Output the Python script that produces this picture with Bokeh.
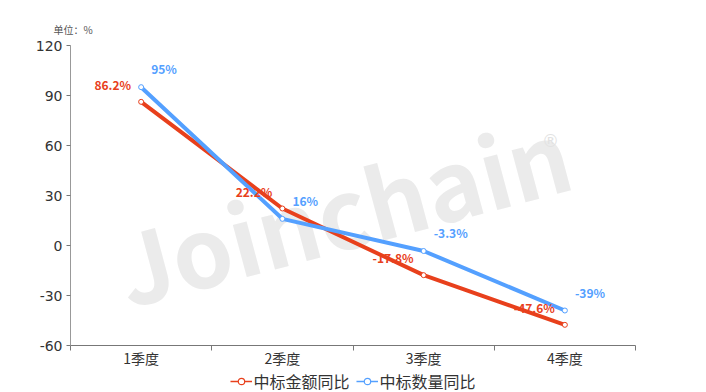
import math
from bokeh.plotting import figure
from bokeh.layouts import column
from bokeh.models import (ColumnDataSource, FixedTicker, Range1d, Label, Legend, LegendItem)
from bokeh.core.properties import value
from bokeh.embed import file_html
from bokeh.resources import INLINE

categories = ["1季度", "2季度", "3季度", "4季度"]
amount_yoy = [86.2, 22.2, -17.8, -47.6]
count_yoy = [95, 16, -3.3, -39]
y_ticks = [-60, -30, 0, 30, 60, 90, 120]
series_names = ["中标金额同比", "中标数量同比"]

RED = "#E8401C"
BLUE = "#54A0FF"
FONT = "Noto Sans CJK SC"

xpos = [i + 0.5 for i in range(len(categories))]

src_a = ColumnDataSource(dict(x=xpos, y=amount_yoy, lab=[f"{v:g}%" for v in amount_yoy]))
src_c = ColumnDataSource(dict(x=xpos, y=count_yoy, lab=[f"{v:g}%" for v in count_yoy]))

p = figure(width=700, height=370, output_backend="svg", toolbar_location=None,
           x_range=Range1d(0, len(categories)), y_range=Range1d(-60, 120),
           min_border_left=70, min_border_right=65, min_border_top=45, min_border_bottom=25)
p.outline_line_color = None
p.grid.grid_line_color = None
p.background_fill_color = "white"

p.title.text = "单位：%"
p.title.align = "left"
p.title.offset = -17
p.title.text_font = FONT
p.title.text_font_size = "10px"
p.title.text_font_style = "normal"
p.title.text_color = "#555555"
p.title.standoff = 18

# watermark
p.add_layout(Label(x=272, y=137, x_units="screen", y_units="screen", text="Joinchain",
                   text_font=FONT, text_font_style="bold", text_font_size="96px",
                   text_color="#ebebeb", text_align="center", text_baseline="middle",
                   angle=15, angle_units="deg", level="underlay"))
p.add_layout(Label(x=480, y=205, x_units="screen", y_units="screen", text="®",
                   text_font="DejaVu Sans", text_font_size="17px", text_color="#e2e2e2",
                   text_align="center", text_baseline="middle", level="underlay"))

p.line("x", "y", source=src_a, line_color=RED, line_width=4)
p.line("x", "y", source=src_c, line_color=BLUE, line_width=4)
p.scatter("x", "y", source=src_a, size=5, fill_color="white", line_color=RED, line_width=1)
p.scatter("x", "y", source=src_c, size=5, fill_color="white", line_color=BLUE, line_width=1)

p.text("x", "y", text="lab", source=src_a, x_offset=-10, y_offset=-9,
       text_align="right", text_baseline="bottom", text_font=value(FONT),
       text_font_style="bold", text_font_size="12px", text_color=RED)
p.text("x", "y", text="lab", source=src_c, x_offset=10, y_offset=-10,
       text_align="left", text_baseline="bottom", text_font=value(FONT),
       text_font_style="bold", text_font_size="12px", text_color=BLUE)

# axes
p.xaxis.ticker = FixedTicker(ticks=xpos, minor_ticks=list(range(len(categories) + 1)))
p.xaxis.major_label_overrides = {x: c for x, c in zip(xpos, categories)}
p.xaxis.major_tick_out = 0
p.xaxis.major_tick_in = 0
p.xaxis.minor_tick_out = 0
p.xaxis.minor_tick_in = -5
p.xaxis.axis_line_color = "#777777"
p.xaxis.minor_tick_line_color = "#777777"
p.xaxis.major_label_text_font = FONT
p.xaxis.major_label_text_font_size = "14px"
p.xaxis.major_label_text_color = "#333333"
p.xaxis.major_label_standoff = 2

p.yaxis.ticker = FixedTicker(ticks=y_ticks)
p.yaxis.major_label_overrides = {t: str(t) for t in y_ticks}
p.yaxis.major_tick_out = 4
p.yaxis.major_tick_in = 0
p.yaxis.minor_tick_line_color = None
p.yaxis.axis_line_color = "#999999"
p.yaxis.major_tick_line_color = "#777777"
p.yaxis.major_label_text_font = "DejaVu Sans"
p.yaxis.major_label_text_font_size = "14px"
p.yaxis.major_label_text_color = "#333333"
p.yaxis.major_label_standoff = 4

# legend strip
lf = figure(width=700, height=22, output_backend="svg", toolbar_location=None,
            x_range=Range1d(0, 1), y_range=Range1d(0, 1),
            min_border=0, outline_line_color=None)
lf.axis.visible = False
lf.grid.grid_line_color = None
items = []
for name, col in zip(series_names, [RED, BLUE]):
    lr = lf.line(x=[-5, -4], y=[-5, -4], line_color=col, line_width=1.5)
    ls = lf.scatter(x=[-5], y=[-5], size=8, fill_color="white", line_color=col, line_width=1.2)
    items.append(LegendItem(label=name, renderers=[lr, ls]))
legend = Legend(items=items, orientation="horizontal", location="center",
                label_text_font=FONT, label_text_font_size="16px", label_text_color="#333333",
                glyph_width=22, glyph_height=16, spacing=6, label_standoff=2,
                padding=0, margin=0, border_line_color=None, background_fill_alpha=0)
lf.add_layout(legend, "center")

layout = column(p, lf, spacing=0)
open("out.html", "w").write(file_html(layout, INLINE))
